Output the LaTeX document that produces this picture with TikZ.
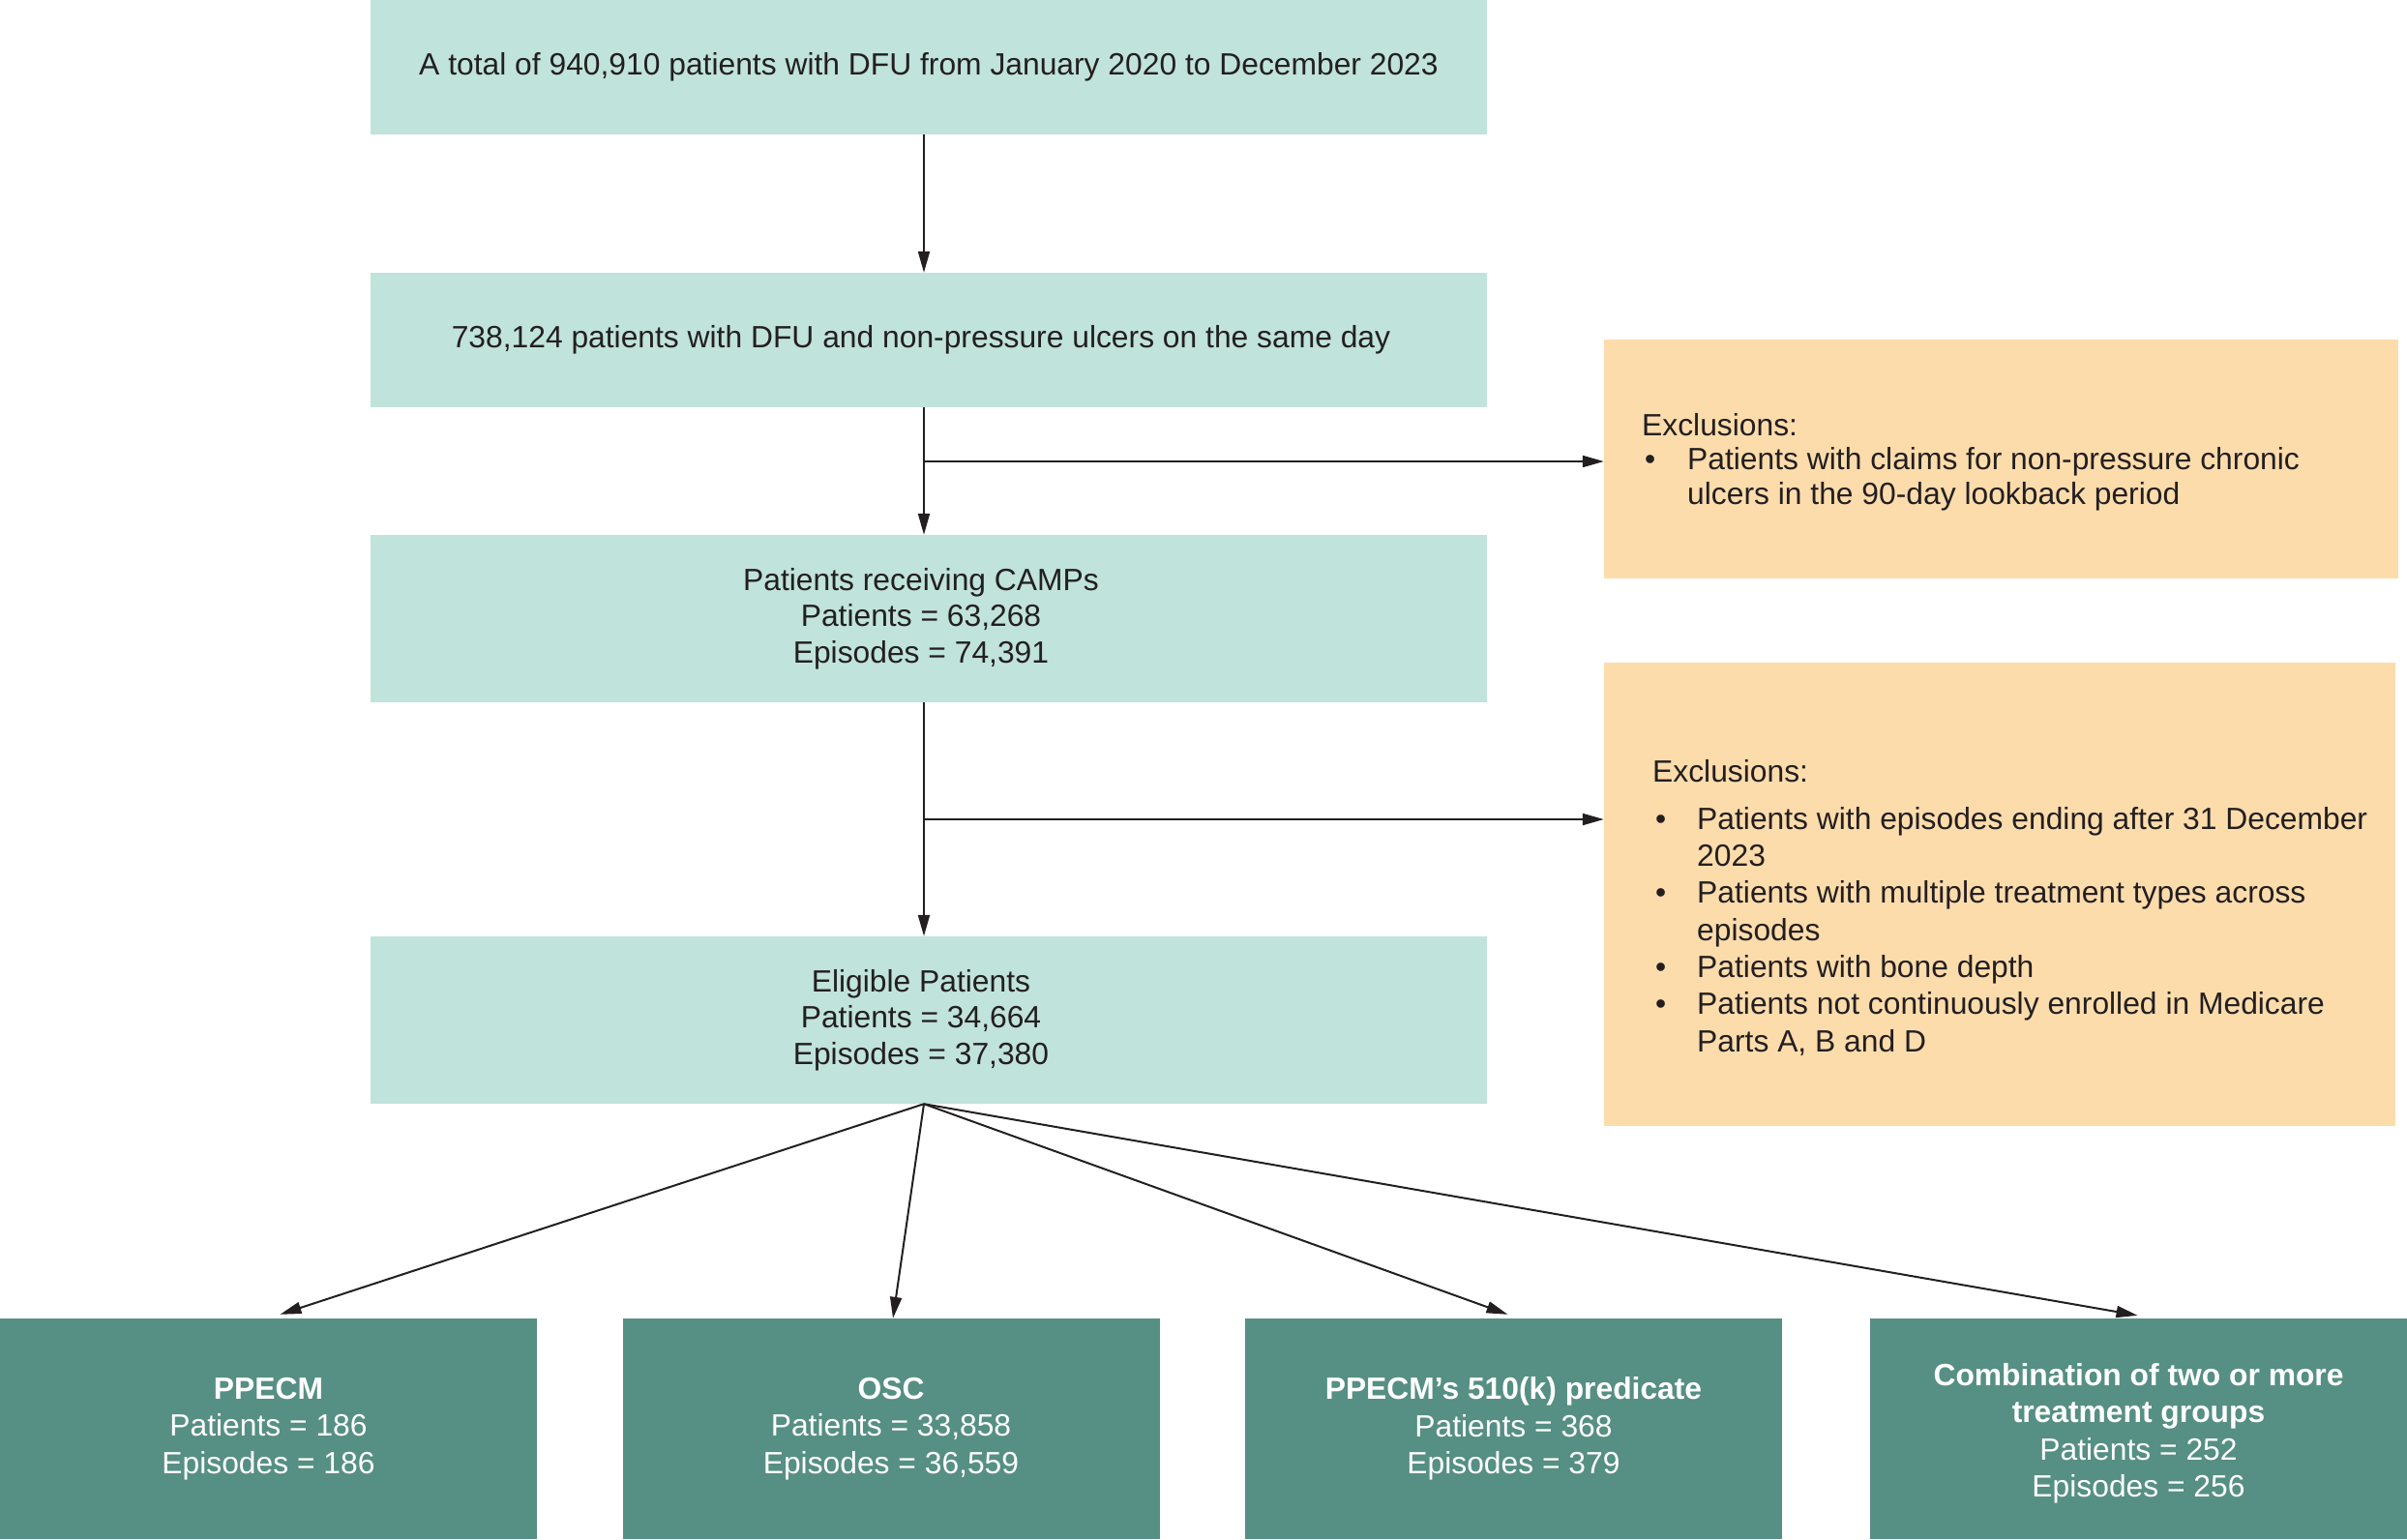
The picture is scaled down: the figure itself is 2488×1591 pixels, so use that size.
\documentclass[tikz,border=0pt]{standalone}
\usepackage{fontspec}
\setmainfont{Liberation Sans}
\usetikzlibrary{arrows.meta,calc}
\definecolor{lightteal}{RGB}{192,227,219}
\definecolor{paleorange}{RGB}{253,220,172}
\definecolor{darkteal}{RGB}{86,143,131}
\definecolor{ink}{RGB}{35,31,32}
\begin{document}
\begin{tikzpicture}[x=1pt,y=-1pt,
  mainbox/.style={fill=lightteal, draw=none, inner sep=0pt, minimum width=1154pt},
  maintext/.style={inner sep=0pt, align=center, text=ink, font=\fontsize{31.8}{37.5}\selectfont},
  exclbox/.style={fill=paleorange, draw=none, inner sep=0pt},
  excltext/.style={anchor=north west, inner sep=0pt, text=ink, align=left},
  groupbox/.style={fill=darkteal, draw=none, inner sep=0pt, minimum width=555pt,
    minimum height=228pt, align=center, text=white, font=\fontsize{31.8}{38.5}\selectfont},
  arr/.style={draw=ink, line width=2pt, -{Triangle[length=22pt,width=12pt]}},
  plain/.style={draw=ink, line width=2pt}]
\useasboundingbox (0,0) rectangle (2488,1591);

% main column
\node[mainbox, minimum height=139pt] (b1) at (960,69.5) {};
\node[maintext] (b1t) at (960,69.5)
  {A total of 940,910 patients with DFU from January 2020 to December 2023};
\node[mainbox, minimum height=139pt] (b2) at (960,351.5) {};
\node[maintext] (b2t) at (952,351.5)
  {738,124 patients with DFU and non-pressure ulcers on the same day};
\node[mainbox, minimum height=173pt] (b3) at (960,639.5) {};
\node[maintext] (b3t) at (952,639.5)
  {Patients receiving CAMPs\\Patients = 63,268\\Episodes = 74,391};
\node[mainbox, minimum height=173pt] (b4) at (960,1054.5) {};
\node[maintext] (b4t) at (952,1054.5)
  {Eligible Patients\\Patients = 34,664\\Episodes = 37,380};

% exclusion boxes
\node[exclbox, minimum width=821pt, minimum height=247pt] (x1) at (2068.5,474.5) {};
\node[excltext] (x1t) at (1697,425)
  {\fontsize{31.8}{35.5}\selectfont
   \begin{tabular}[t]{@{}l@{}l@{}}
   \multicolumn{2}{@{}l@{}}{Exclusions:}\\
   \makebox[47pt][l]{\hspace{3pt}\textbullet} & Patients with claims for non-pressure chronic\\
   & ulcers in the 90-day lookback period
   \end{tabular}};

\node[exclbox, minimum width=818pt, minimum height=479pt] (x2) at (2067,924.5) {};
\node[excltext] (x2t) at (1708,781)
  {\fontsize{31.8}{38.3}\selectfont
   \begin{tabular}[t]{@{}l@{}l@{}}
   \multicolumn{2}{@{}l@{}}{Exclusions:}\\[11pt]
   \makebox[46pt][l]{\hspace{3pt}\textbullet} & Patients with episodes ending after 31 December\\
   & 2023\\
   \makebox[46pt][l]{\hspace{3pt}\textbullet} & Patients with multiple treatment types across\\
   & episodes\\
   \makebox[46pt][l]{\hspace{3pt}\textbullet} & Patients with bone depth\\
   \makebox[46pt][l]{\hspace{3pt}\textbullet} & Patients not continuously enrolled in Medicare\\
   & Parts A, B and D
   \end{tabular}};

% treatment groups
\node[groupbox] (o1) at (277.5,1477)
  {\textbf{PPECM}\\Patients = 186\\Episodes = 186};
\node[groupbox] (o2) at (921,1477)
  {\textbf{OSC}\\Patients = 33,858\\Episodes = 36,559};
\node[groupbox] (o3) at (1564.5,1477)
  {\textbf{PPECM’s 510(k) predicate}\\Patients = 368\\Episodes = 379};
\node[groupbox] (o4) at (2210.5,1477) {};
\node[groupbox, fill=none, minimum width=0pt, minimum height=0pt] (o4t) at (2210.5,1482)
  {\textbf{Combination of two or more}\\\textbf{treatment groups}\\Patients = 252\\Episodes = 256};

% connectors
\coordinate (spine) at (955,0);
\coordinate (j1) at (955,477);
\coordinate (j2) at (955,847);
\coordinate (fan) at (b4.south -| spine);

\draw[arr] (b1.south -| spine) -- (b2.north -| spine);
\draw[arr] (b2.south -| spine) -- (b3.north -| spine);
\draw[arr] (j1) -- (j1 -| x1.west);
\draw[arr] (b3.south -| spine) -- (b4.north -| spine);
\draw[arr] (j2) -- (j2 -| x2.west);

\draw[arr] (fan) -- ($(o1.north)+(12,-4)$);
\draw[arr] (fan) -- ($(o2.north)+(2,0)$);
\draw[arr] (fan) -- ($(o3.north)+(-6,-4)$);
\draw[arr] (fan) -- ($(o4.north)+(-1,-3)$);
\end{tikzpicture}
\end{document}
